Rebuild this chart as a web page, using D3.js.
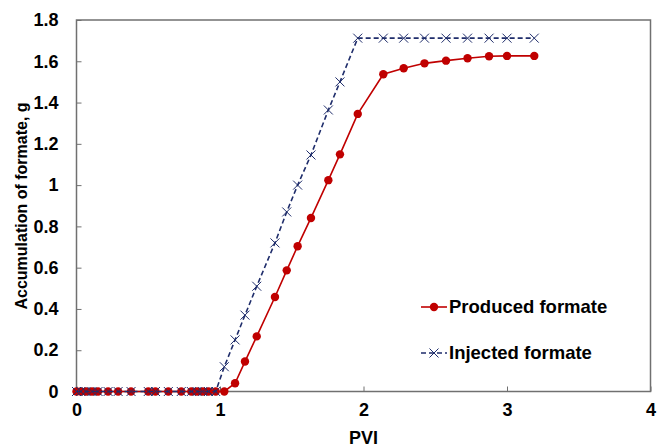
<!DOCTYPE html>
<html>
<head>
<meta charset="utf-8">
<script src="https://cdn.jsdelivr.net/npm/d3@7"></script>
<style>
  body { margin: 0; background: #fff; }
  text { font-family: "Liberation Sans", Arial, sans-serif; font-weight: bold; }
</style>
</head>
<body>
<svg id="chart" width="657" height="446"></svg>
<script>
// PVI values shared by both series
var pvi = [0, 0.03, 0.066, 0.108, 0.15, 0.22, 0.29, 0.38, 0.5, 0.55, 0.64, 0.73, 0.8, 0.84, 0.88, 0.92, 0.97,
  1.03, 1.105, 1.174, 1.256, 1.383, 1.465, 1.541, 1.634, 1.755, 1.836, 1.96,
  2.138, 2.28, 2.425, 2.575, 2.725, 2.875, 3.0, 3.19];
var produced = [0, 0, 0, 0, 0, 0, 0, 0, 0, 0, 0, 0, 0, 0, 0, 0, 0,
  0, 0.04, 0.145, 0.267, 0.458, 0.587, 0.704, 0.841, 1.024, 1.149, 1.345,
  1.537, 1.566, 1.59, 1.603, 1.615, 1.624, 1.626, 1.626];
var injected = [0, 0, 0, 0, 0, 0, 0, 0, 0, 0, 0, 0, 0, 0, 0, 0, 0,
  0.12, 0.25, 0.37, 0.51, 0.72, 0.87, 1.0, 1.146, 1.364, 1.5, 1.712,
  1.712, 1.712, 1.712, 1.712, 1.712, 1.712, 1.712, 1.712];
var xTicks = [0, 1, 2, 3, 4];
var yTicks = [0, 0.2, 0.4, 0.6, 0.8, 1, 1.2, 1.4, 1.6, 1.8];

var svg = d3.select('#chart');
var pLeft = 76.5, pRight = 650.5, pTop = 20, pBottom = 391.5;
var x = d3.scaleLinear().domain([0, 4]).range([pLeft, pRight]);
var y = d3.scaleLinear().domain([0, 1.8]).range([pBottom, pTop]);
var red = '#c00000', navy = '#1f2d6b', frame = '#707070';

// frame
svg.append('rect')
  .attr('x', pLeft).attr('y', pTop)
  .attr('width', pRight - pLeft).attr('height', pBottom - pTop)
  .attr('fill', 'none').attr('stroke', frame).attr('stroke-width', 1.5);

// axes with inward ticks
var xAxis = svg.append('g').attr('transform', 'translate(0,' + pBottom + ')')
  .call(d3.axisBottom(x).tickValues(xTicks).tickSize(-5).tickPadding(12).tickFormat(d3.format('d')));
var yAxis = svg.append('g').attr('transform', 'translate(' + pLeft + ',0)')
  .call(d3.axisLeft(y).tickValues(yTicks).tickSize(-5).tickPadding(18).tickFormat(function(d){ return String(+d.toFixed(1)) }));
[xAxis, yAxis].forEach(function(a) {
  a.select('.domain').remove();
  a.selectAll('line').attr('stroke', frame).attr('stroke-width', 1);
  a.selectAll('text').style('font-size', '18px').attr('fill', '#000');
});

// axis titles
svg.append('text').attr('x', (pLeft + pRight) / 2).attr('y', 444)
  .attr('text-anchor', 'middle').style('font-size', '18px').text('PVI');
svg.append('text').attr('transform', 'translate(27,206) rotate(-90)')
  .attr('text-anchor', 'middle').style('font-size', '16px').text('Accumulation of formate, g');

var line = d3.line().x(function(d){ return x(d[0]) }).y(function(d){ return y(d[1]) });
var prodPts = pvi.map(function(v, i){ return [v, produced[i]] });
var injPts = pvi.map(function(v, i){ return [v, injected[i]] });

// produced: solid red with dots
svg.append('path').attr('d', line(prodPts))
  .attr('fill', 'none').attr('stroke', red).attr('stroke-width', 1.6);
svg.selectAll('.dot').data(prodPts).enter()
  .append('circle').attr('class', 'dot')
  .attr('cx', function(d){ return x(d[0]) }).attr('cy', function(d){ return y(d[1]) })
  .attr('r', 4.2).attr('fill', red);

// injected: dashed navy with crosses
svg.append('path').attr('d', line(injPts))
  .attr('fill', 'none').attr('stroke', navy).attr('stroke-width', 1.6).attr('stroke-dasharray', '5,3');
var cross = 'M-4.5,-4.5L4.5,4.5M-4.5,4.5L4.5,-4.5';
svg.selectAll('.cross').data(injPts).enter()
  .append('path').attr('class', 'cross')
  .attr('transform', function(d){ return 'translate(' + x(d[0]) + ',' + y(d[1]) + ')' })
  .attr('d', cross).attr('stroke', navy).attr('stroke-width', 1).attr('fill', 'none');

// legend
var lg = svg.append('g');
lg.append('line').attr('x1', 421).attr('x2', 447).attr('y1', 307).attr('y2', 307)
  .attr('stroke', red).attr('stroke-width', 1.6);
lg.append('circle').attr('cx', 434).attr('cy', 307).attr('r', 4.2).attr('fill', red);
lg.append('text').attr('x', 449).attr('y', 307).attr('dy', '0.35em')
  .style('font-size', '18.5px').text('Produced formate');
lg.append('line').attr('x1', 421).attr('x2', 447).attr('y1', 353).attr('y2', 353)
  .attr('stroke', navy).attr('stroke-width', 1.6).attr('stroke-dasharray', '5,3');
lg.append('path').attr('transform', 'translate(434,353)').attr('d', cross)
  .attr('stroke', navy).attr('stroke-width', 1).attr('fill', 'none');
lg.append('text').attr('x', 449).attr('y', 353).attr('dy', '0.35em')
  .style('font-size', '18.5px').text('Injected formate');
</script>
</body>
</html>
